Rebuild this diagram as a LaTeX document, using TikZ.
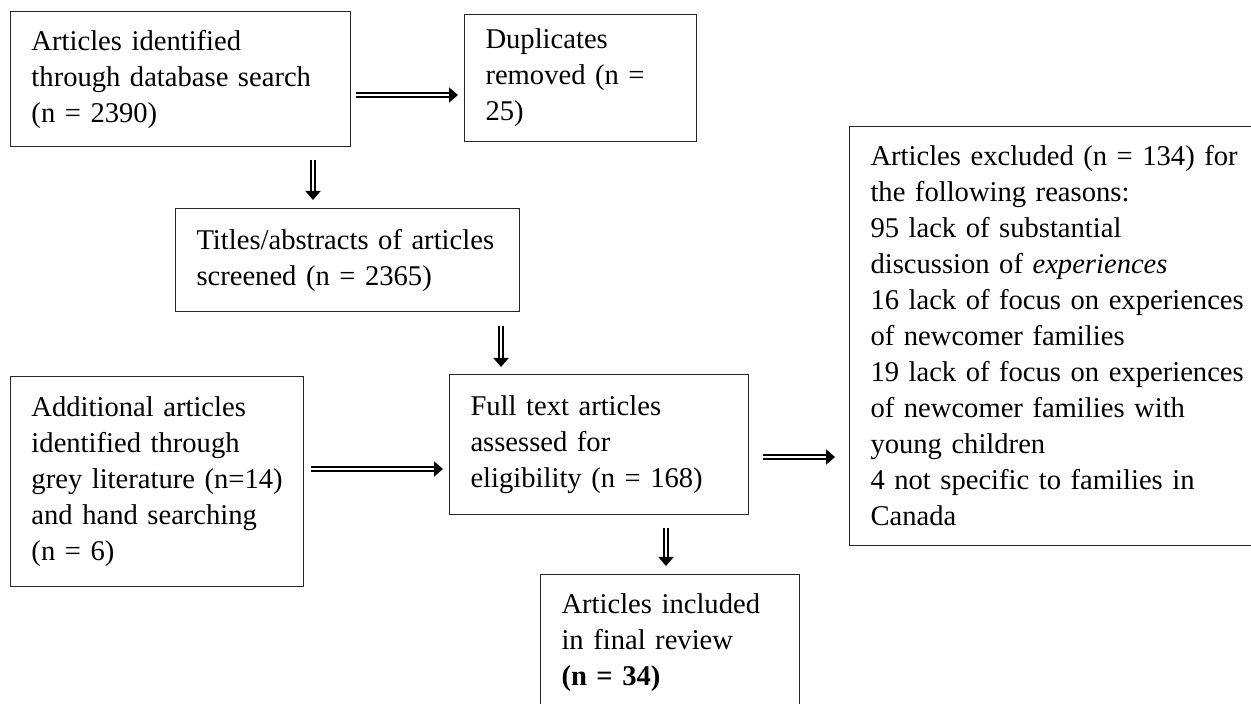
\documentclass[tikz,border=0pt]{standalone}
\usepackage{fontspec}
\setmainfont{Liberation Serif}
\usetikzlibrary{arrows.meta}
\tikzset{
  box/.style={draw=black!85, line width=0.5pt, inner sep=0pt, anchor=north west, align=left,
    font=\fontsize{14.3pt}{18pt}\selectfont, execute at begin node={\leftskip=10.5pt}},
  dbl/.style={double, double distance=1.4pt, line width=0.9pt, -{Triangle[width=7.5pt,length=4.5pt]}}
}
\begin{document}
\begin{tikzpicture}[x=0.5pt, y=-0.5pt]
        \useasboundingbox (0,0) rectangle (1251,704);
        \clip (0,0) rectangle (1251,704);
        \node[box, text width=170pt, minimum height=67.5pt] (db) at (10,11) {Articles identified\\through database search\\(n = 2390)};
        \node[box, text width=116pt, minimum height=63.5pt] (dup) at (464,14) {Duplicates\\removed (n =\\25)};
        \node[box, text width=172pt, minimum height=51.5pt] (scr) at (175,208) {Titles/abstracts of articles\\screened (n = 2365)};
        \node[box, text width=146.5pt, minimum height=105pt] (add) at (10,376) {Additional articles\\identified through\\grey literature (n=14)\\and hand searching\\(n = 6)};
        \node[box, text width=149.5pt, minimum height=70pt] (full) at (449,374) {Full text articles\\assessed for\\eligibility (n = 168)};
        \node[box, text width=129.5pt, minimum height=68pt] (incl) at (540,574) {Articles included\\in final review\\\textbf{(n = 34)}};
        \node[box, text width=205pt, minimum height=209.5pt] (excl) at (849,126) {Articles excluded (n = 134) for\\the following reasons:\\95 lack of substantial\\discussion of \textit{experiences}\\16 lack of focus on experiences\\of newcomer families\\19 lack of focus on experiences\\of newcomer families with\\young children\\4 not specific to families in\\Canada};
        \draw[dbl] ([shift={(5,84)}]db.north east) -- ([shift={(-6,81)}]dup.north west);
        \draw[dbl] ([shift={(303,13)}]db.south west) -- ([shift={(138,-8)}]scr.north west);
        \draw[dbl] ([shift={(326,14)}]scr.south west) -- ([shift={(52,-7)}]full.north west);
        \draw[dbl] ([shift={(7,93)}]add.north east) -- ([shift={(-6,95)}]full.north west);
        \draw[dbl] ([shift={(14,83)}]full.north east) -- ([shift={(-14,331)}]excl.north west);
        \draw[dbl] ([shift={(217,13)}]full.south west) -- ([shift={(126,-8)}]incl.north west);
    \end{tikzpicture}
\end{document}
